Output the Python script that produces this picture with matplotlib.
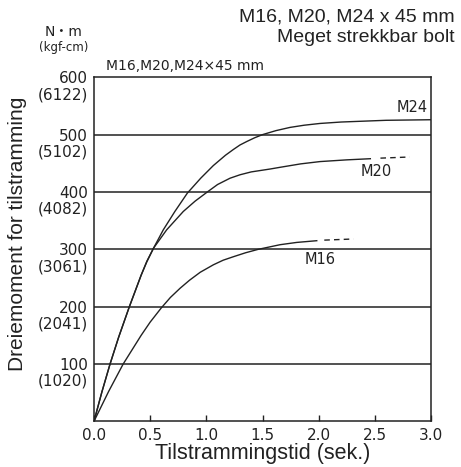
import matplotlib
matplotlib.use("Agg")
import matplotlib.pyplot as plt

# torque (N·m) vs tightening time (s)
t_m24 = [0, 0.07, 0.143, 0.22, 0.315, 0.42, 0.47, 0.53, 0.617, 0.72, 0.831, 0.95, 1.062, 1.17,
         1.24, 1.30, 1.36, 1.43, 1.5, 1.62, 1.745, 1.87, 2.012, 2.2, 2.6, 3.0]
v_m24 = [0, 51, 100, 147, 200, 255, 278, 302, 334, 366, 398, 424, 446, 464,
         474, 482, 488, 494.5, 500, 507, 512.6, 516.4, 519.5, 522, 525, 526]

t_m20 = [0, 0.07, 0.143, 0.22, 0.315, 0.42, 0.47, 0.53, 0.647, 0.795, 0.9, 1.009, 1.1, 1.211,
         1.30, 1.4, 1.567, 1.656, 1.84, 2.012, 2.25, 2.46]
v_m20 = [0, 51, 100, 147, 200, 255, 279, 302, 334, 366, 384, 400, 413, 424,
         430, 435, 440, 443, 449, 453, 456, 458]
t_m20_dash = [2.55, 2.81]
v_m20_dash = [459, 461]

t_m16 = [0, 0.13, 0.26, 0.42, 0.5, 0.6, 0.68, 0.766, 0.85, 0.946, 1.063, 1.15, 1.24, 1.35,
         1.463, 1.56, 1.656, 1.805, 1.983]
v_m16 = [0, 52, 100, 150, 173, 198, 216, 232, 246, 260, 273, 281, 287, 294,
         300, 304, 308, 312, 315]
t_m16_dash = [2.05, 2.31]
v_m16_dash = [316, 318]

yticks = [100, 200, 300, 400, 500, 600]
kgf = ["(1020)", "(2041)", "(3061)", "(4082)", "(5102)", "(6122)"]
xticks = [0.0, 0.5, 1.0, 1.5, 2.0, 2.5, 3.0]

num = "DejaVu Sans"
lat = "Liberation Sans"
ink = "#222222"

fig = plt.figure(figsize=(4.61, 4.67), dpi=100)
ax = fig.add_axes([94 / 461, 1 - 421.3 / 467, 337 / 461, 344 / 467])

for y in yticks[:-1]:
    ax.axhline(y, color=ink, lw=1.1, zorder=1)

ax.plot(t_m24, v_m24, color=ink, lw=1.0)
ax.plot(t_m20, v_m20, color=ink, lw=1.0)
ax.plot(t_m20_dash, v_m20_dash, color=ink, lw=1.0, ls=(0, (4, 3)))
ax.plot(t_m16, v_m16, color=ink, lw=1.0)
ax.plot(t_m16_dash, v_m16_dash, color=ink, lw=1.0, ls=(0, (4, 3)))

ax.text(2.97, 548, "M24", ha="right", va="center", fontsize=10.5, family=num, color=ink)
ax.text(2.51, 436, "M20", ha="center", va="center", fontsize=10.5, family=num, color=ink)
ax.text(2.01, 282, "M16", ha="center", va="center", fontsize=10.5, family=num, color=ink)

ax.set_xlim(0, 3.0)
ax.set_ylim(0, 600)
ax.set_xticks(xticks)
ax.set_xticklabels([f"{x:.1f}" for x in xticks], family=num, fontsize=11, color=ink)
ax.set_yticks(yticks)
ax.set_yticklabels([str(y) for y in yticks], family=num, fontsize=11, color=ink)
ax.tick_params(axis="x", direction="in", length=4, width=1, color=ink, pad=5)
ax.tick_params(axis="y", length=0, pad=4.5)
for y, k in zip(yticks, kgf):
    ax.annotate(k, xy=(0, y), xycoords=("axes fraction", "data"), xytext=(-4, -12.5),
                textcoords="offset points", ha="right", va="center",
                fontsize=11, family=num, color=ink)
for s in ax.spines.values():
    s.set_color(ink)
    s.set_linewidth(1.1)

ax.set_xlabel("Tilstrammingstid (sek.)", family=lat, fontsize=15.5, color=ink, labelpad=0)
fig.text(17.5 / 461, 1 - 233.5 / 467, "Dreiemoment for tilstramming", rotation=90,
         ha="center", va="center", family=lat, fontsize=15, color=ink)

fig.text(455 / 461, 1 - 9 / 467, "M16, M20, M24 x 45 mm\nMeget strekkbar bolt", ha="right", va="top",
         family=lat, fontsize=14, color=ink, linespacing=1.2)
fig.text(64 / 461, 1 - 32 / 467, "N・m", ha="center", va="center",
         family=[num, "Noto Sans CJK JP"], fontsize=10, color=ink)
fig.text(64 / 461, 1 - 47 / 467, "(kgf-cm)", ha="center", va="center", family=num, fontsize=8.5, color=ink)
fig.text(106 / 461, 1 - 66 / 467, "M16,M20,M24×45 mm", ha="left", va="center", family=num, fontsize=10, color=ink)

fig.savefig("out.png", dpi=100)
